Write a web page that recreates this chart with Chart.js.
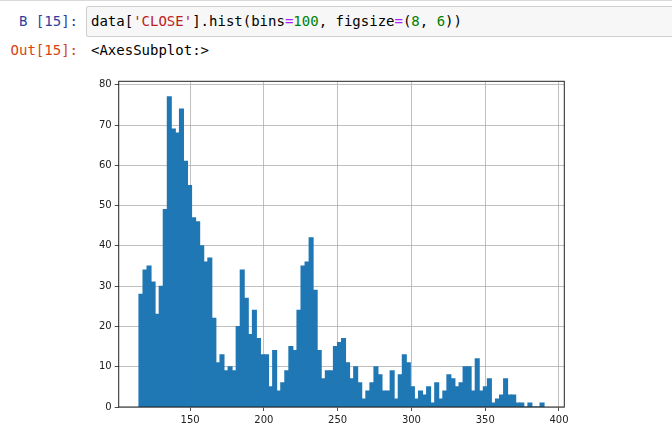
<!DOCTYPE html>
<html>
<head>
<meta charset="utf-8">
<script src="https://cdn.jsdelivr.net/npm/chart.js@4"></script>
<style>
    body { margin: 0; background: #fff; width: 672px; height: 443px; overflow: hidden; position: relative; border-top: 1px solid #d9d9d9; box-sizing: border-box; }
    .mono { font-family: "DejaVu Sans Mono", monospace; font-size: 14px; line-height: 17px; position: absolute; white-space: pre; }
    .prompt { right: 594px; text-align: right; }
    .caja { position: absolute; left: 86px; top: 5px; width: 600px; height: 29px; background: #f7f7f7; border: 1px solid #cfcfcf; border-radius: 2px; }
    canvas { position: absolute; left: 0; top: 0; }
</style>
</head>
<body>
<div class="caja"></div>
<div class="mono prompt" style="top: 12px; color: #303f9f;">B [15]:</div>
<div class="mono" style="left: 91px; top: 12px; color: #000;">data[<span style="color:#ba2121">'CLOSE'</span>].hist(bins<span style="color:#aa22ff">=</span><span style="color:#008000">100</span>, figsize<span style="color:#aa22ff">=</span>(<span style="color:#008000">8</span>, <span style="color:#008000">6</span>))</div>
<div class="mono prompt" style="top: 41px; color: #d84315;">Out[15]:</div>
<div class="mono" style="left: 91px; top: 41px; color: #000;">&lt;AxesSubplot:&gt;</div>
<canvas id="hist" width="672" height="443"></canvas>
<script>
// conteos por bin (100 bins)
const conteos = [
    28, 34, 35, 31, 23, 30, 49, 77, 69, 68,
    74, 61, 55, 47, 46, 40, 36, 37, 22, 11,
    13, 9, 10, 9, 20, 34, 27, 18, 24, 17,
    13, 13, 5, 14, 4, 6, 9, 15, 14, 24,
    35, 36, 42, 29, 14, 7, 9, 9, 15, 16,
    17, 11, 7, 10, 6, 2, 4, 6, 10, 8,
    4, 4, 9, 2, 8, 13, 11, 5, 2, 4,
    3, 5, 1, 6, 2, 4, 8, 7, 5, 6,
    10, 10, 4, 12, 4, 5, 7, 1, 2, 3,
    7, 3, 3, 1, 1, 0, 1, 0, 0, 1,
];
const inicio = 115.3;   // borde izquierdo del primer bin
const ancho = 2.746;    // ancho de cada bin
const ticksX = [150, 200, 250, 300, 350, 400];
const ticksY = [0, 10, 20, 30, 40, 50, 60, 70, 80];

const marco = {
    id: "marco",
    afterDraw(chart) {
        const { ctx, chartArea: a } = chart;
        ctx.save();
        ctx.strokeStyle = "#222";
        ctx.lineWidth = 1;
        ctx.strokeRect(a.left, a.top, a.right - a.left, a.bottom - a.top);
        ctx.restore();
    },
};

const fuente = { family: "DejaVu Sans", size: 10 };

new Chart(document.querySelector("#hist").getContext("2d"), {
    type: "bar",
    data: {
        datasets: [{
            data: conteos.map((c, i) => ({ x: inicio + ancho * (i + 0.5), y: c })),
            backgroundColor: "#1f77b4",
            borderWidth: 0,
            barPercentage: 1,
            categoryPercentage: 1,
            inflateAmount: 0.5,
        }],
    },
    options: {
        responsive: false,
        animation: false,
        layout: { padding: { left: 68.7, top: 80.3, right: 107.7, bottom: 12 } },
        plugins: { legend: { display: false }, tooltip: { enabled: false } },
        scales: {
            x: {
                type: "linear",
                min: 101.6,
                max: 403.6,
                offset: false,
                z: 1,
                afterFit: (s) => { s.height = 25; },
                afterBuildTicks: (s) => { s.ticks = ticksX.map((v) => ({ value: v })); },
                grid: { color: "#b0b0b0", lineWidth: 0.8, tickColor: "#222", tickLength: 4, offset: false },
                border: { display: false },
                ticks: { color: "#222", font: fuente, padding: 3, maxRotation: 0, autoSkip: false },
            },
            y: {
                min: 0,
                max: 80.85,
                z: 1,
                afterFit: (s) => { s.width = 50; },
                afterBuildTicks: (s) => { s.ticks = ticksY.map((v) => ({ value: v })); },
                grid: { color: "#b0b0b0", lineWidth: 0.8, tickColor: "#222", tickLength: 4 },
                border: { display: false },
                ticks: { color: "#222", font: fuente, padding: 3 },
            },
        },
    },
    plugins: [marco],
});
</script>
</body>
</html>
